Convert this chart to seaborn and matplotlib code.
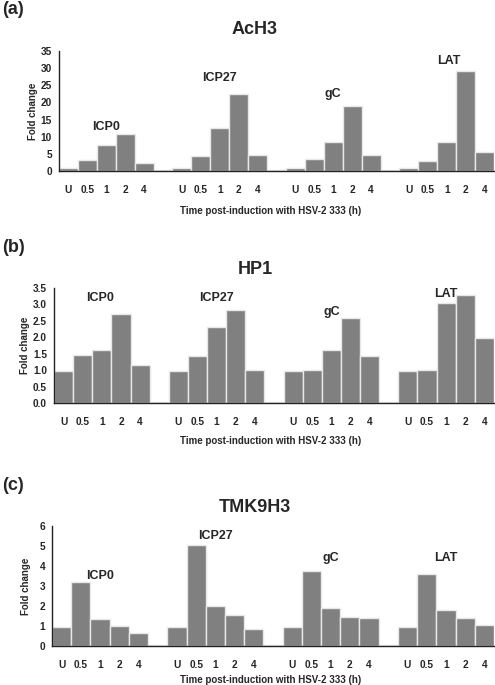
import pandas as pd
import seaborn as sns
import matplotlib.pyplot as plt
from matplotlib.ticker import FixedLocator, FormatStrFormatter

# Time points and genes
times = ["U", "0.5", "1", "2", "4"]
genes = ["ICP0", "ICP27", "gC", "LAT"]

# Fold change per gene (U, 0.5, 1, 2, 4 h)
ach3 = {
    "ICP0": [0.8, 3.1, 7.6, 10.9, 2.3],
    "ICP27": [1.0, 4.4, 12.4, 22.5, 4.6],
    "gC": [1.0, 3.5, 8.6, 19.0, 4.6],
    "LAT": [1.0, 2.9, 8.4, 29.3, 5.6],
}
hp1 = {
    "ICP0": [0.97, 1.45, 1.60, 2.72, 1.17],
    "ICP27": [0.97, 1.43, 2.30, 2.84, 1.01],
    "gC": [0.97, 0.99, 1.62, 2.59, 1.43],
    "LAT": [0.97, 0.99, 3.04, 3.29, 1.99],
}
tmk9h3 = {
    "ICP0": [0.95, 3.18, 1.37, 1.02, 0.64],
    "ICP27": [0.95, 5.07, 2.02, 1.57, 0.87],
    "gC": [0.95, 3.73, 1.89, 1.47, 1.39],
    "LAT": [0.95, 3.58, 1.79, 1.40, 1.07],
}
# tiny baseline bars that sit in the gap between gene groups
gap_values = {"AcH3": 0.15, "HP1": 0.02, "TMK9H3": 0.05}

# Gene label positions (slot index, height) for each panel
label_pos = {
    "AcH3": [(2.0, 12.9), (8.0, 27.0), (14.0, 22.4), (20.1, 32.0)],
    "HP1": [(1.9, 3.2), (8.0, 3.2), (14.0, 2.76), (20.0, 3.33)],
    "TMK9H3": [(2.0, 3.5), (8.0, 5.5), (14.0, 4.38), (20.0, 4.38)],
}


def build_frame(data, gap):
    rows = []
    for i, gene in enumerate(genes):
        for t, v in zip(times, data[gene]):
            rows.append({"slot": f"{gene}_{t}", "value": v, "tick": t})
        if i < len(genes) - 1:
            rows.append({"slot": f"gap{i}", "value": gap, "tick": ""})
    return pd.DataFrame(rows)


sns.set_style("white")
plt.rcParams["font.family"] = ["Liberation Sans", "DejaVu Sans"]
plt.rcParams["font.weight"] = "bold"

fig = plt.figure(figsize=(4.95, 6.85), dpi=100)
W, H = 495, 685

# name, data, axes box px (l, t, r, b), yticks, fmt, letter y, title y, xlabel y, letter, ylabel x
panels = [
    ("AcH3", ach3, (59, 51, 494, 171), [0, 5, 10, 15, 20, 25, 30, 35], "%d", 10, 30, 211, "(a)", -0.049),
    ("HP1", hp1, (54, 288, 494, 403), [0, 0.5, 1, 1.5, 2, 2.5, 3, 3.5], "%.1f", 247, 270, 441, "(b)", -0.054),
    ("TMK9H3", tmk9h3, (52, 526, 494, 646), [0, 1, 2, 3, 4, 5, 6], "%d", 485, 507, 680, "(c)", -0.047),
]

for name, data, box, yticks, fmt, ly, ty, xly, letter, ylx in panels:
    l, t, r, b = box
    ax = fig.add_axes([l / W, 1 - b / H, (r - l) / W, (b - t) / H])
    df = build_frame(data, gap_values[name])
    sns.barplot(data=df, x="slot", y="value", color="#808080", width=1.0,
                edgecolor="#e8e8e8", linewidth=1.0, saturation=1, ax=ax)
    n = len(df)
    ax.set_xlim(-0.5, n - 0.5)
    ax.set_ylim(0, yticks[-1])
    ax.set_yticks(yticks)
    ax.yaxis.set_major_formatter(FormatStrFormatter(fmt))

    # boundary tick marks, labels at bar centres
    ax.xaxis.set_major_locator(FixedLocator([i - 0.5 for i in range(n + 1)]))
    ax.xaxis.set_minor_locator(FixedLocator(list(range(n))))
    ax.set_xticklabels([""] * (n + 1))
    ax.set_xticklabels(df["tick"].tolist(), minor=True)
    ax.tick_params(axis="x", which="major", direction="out", length=3, width=1, colors="#222222")
    ax.tick_params(axis="x", which="minor", length=0, pad=10, labelsize=7.3)
    ax.tick_params(axis="y", direction="out", length=3, width=1, labelsize=7.3, pad=2)
    for lab in ax.get_xticklabels(minor=True) + ax.get_yticklabels():
        lab.set_fontweight("bold")

    for s in ["top", "right"]:
        ax.spines[s].set_visible(False)
    for s in ["left", "bottom"]:
        ax.spines[s].set_color("#222222")
        ax.spines[s].set_linewidth(1.0)

    ax.set_xlabel("")
    ax.set_ylabel("Fold change", fontsize=7, fontweight="bold")
    ax.yaxis.set_label_coords(ylx, 0.5)

    for gene, (x, y) in zip(genes, label_pos[name]):
        ax.text(x, y, gene, ha="center", va="center", fontsize=9, fontweight="bold")

    fig.text(255 / W, 1 - ty / H, name, ha="center", va="center", fontsize=13, fontweight="bold")
    fig.text(2 / W, 1 - ly / H, letter, ha="left", va="center", fontsize=13, fontweight="bold")
    fig.text(271 / W, 1 - xly / H, "Time post-induction with HSV-2 333 (h)",
             ha="center", va="center", fontsize=7, fontweight="bold")

fig.savefig("out.png", dpi=100)
